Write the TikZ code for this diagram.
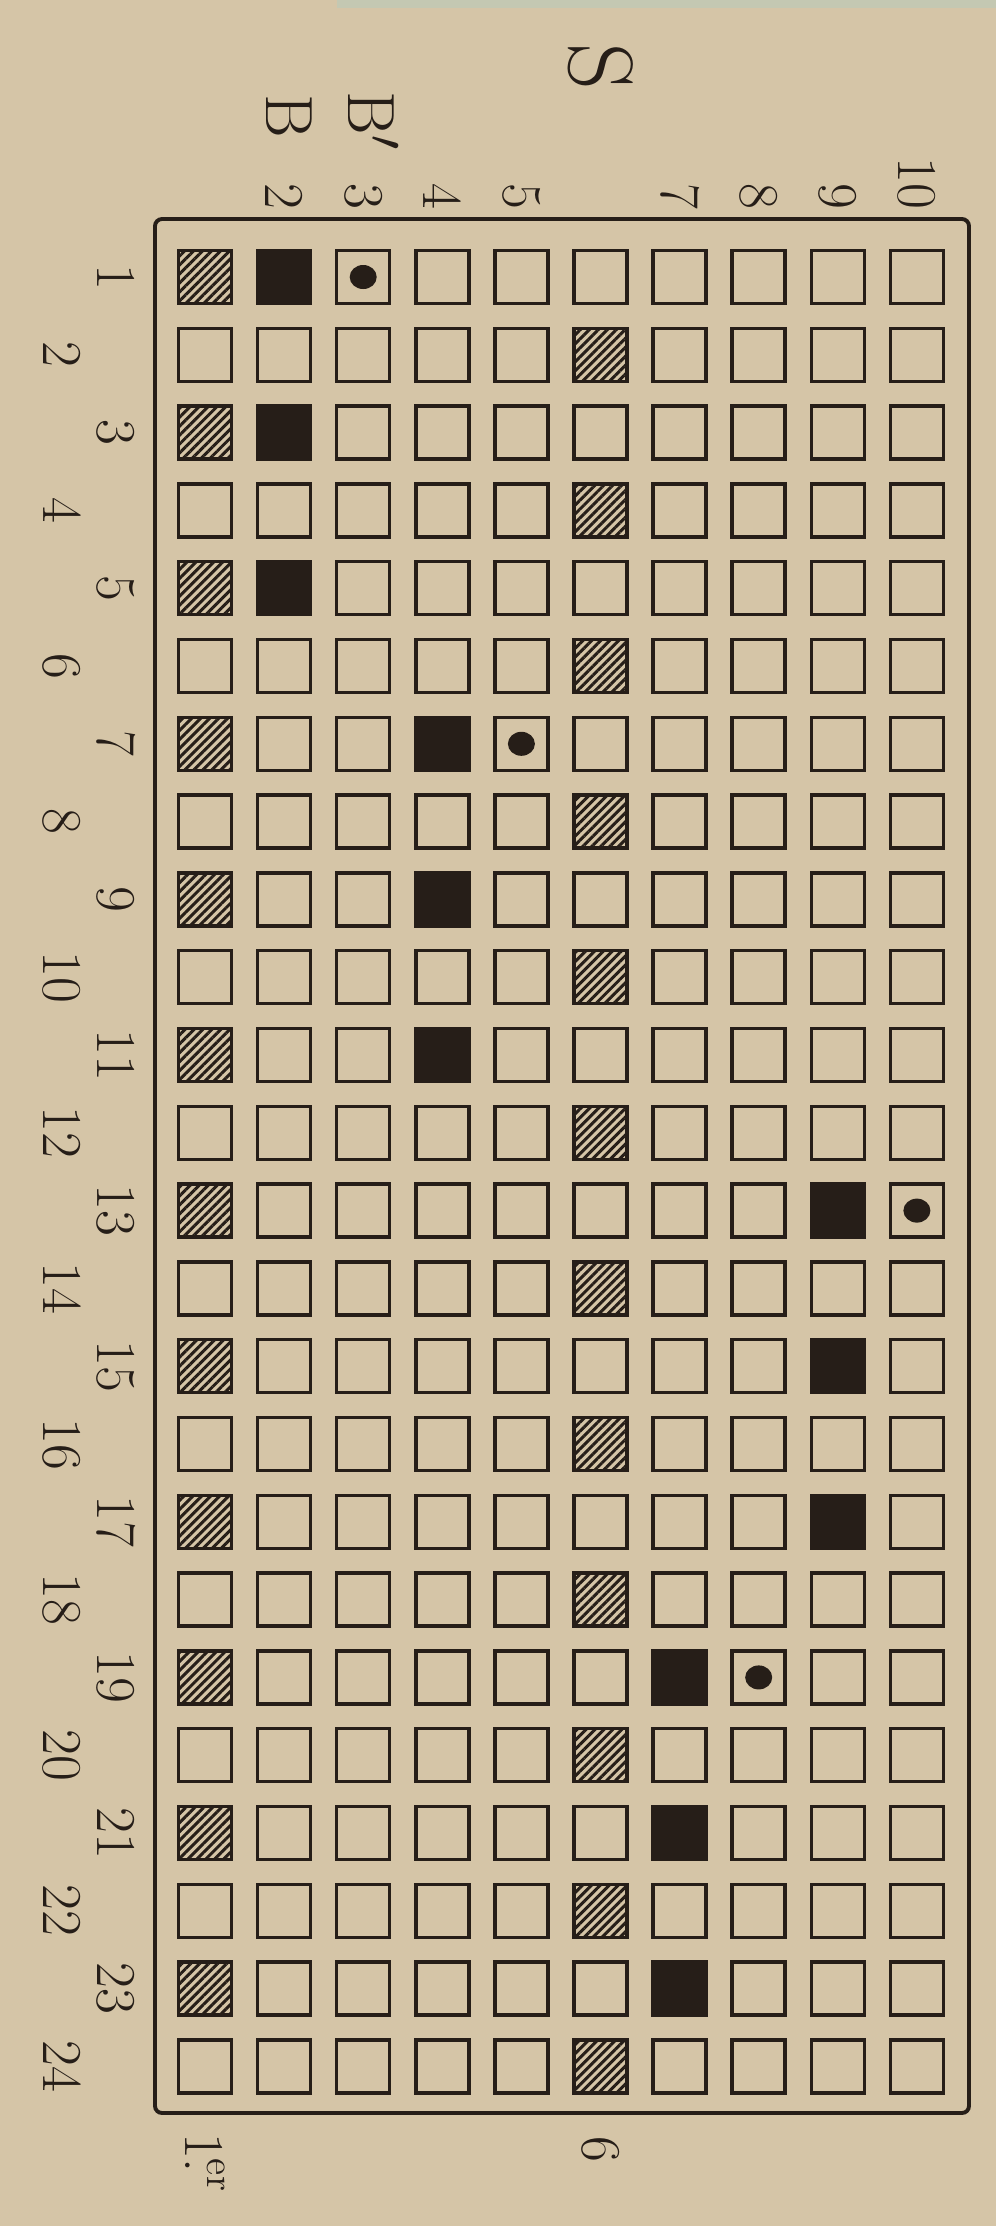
\documentclass[tikz,border=0pt]{standalone}
\usetikzlibrary{patterns.meta,shapes.geometric}

\definecolor{paper}{RGB}{213,197,167}
\definecolor{band}{RGB}{196,200,178}
\definecolor{ink}{RGB}{38,30,24}

\tikzset{
  cell/.style={draw=ink,line width=1pt,minimum size=0.53cm,inner sep=0pt},
  blackcell/.style={cell,fill=ink},
  hatchcell/.style={cell,pattern={Lines[angle=45,distance=1.8pt,line width=0.85pt]},pattern color=ink},
  dotmark/.style={ellipse,fill=ink,inner sep=0pt,minimum width=0.27cm,minimum height=0.24cm},
  lab/.style={text=ink,rotate=-90,inner sep=0pt,font=\fontsize{16}{16}\selectfont},
}

\begin{document}
\begin{tikzpicture}[x=0.01cm,y=-0.01cm]
  \fill[paper] (0,0) rectangle (996,2226);
  \fill[band] (337,0) rectangle (996,8);

  % frame
  \draw[ink,line width=1.1pt,rounded corners=2pt] (155,219) rectangle (969,2113);

  % the 10 x 24 cells
  \foreach \c in {1,...,10}{
    \foreach \r in {1,...,24}{
      \node[cell] (c\c-\r) at ({205+79.1*(\c-1)},{277+77.8*(\r-1)}) {};
    }
  }

  \foreach \r in {1,3,...,23}{
    \node[hatchcell] (h1-\r) at (c1-\r) {};
  }
  \foreach \r in {2,4,...,24}{
    \node[hatchcell] (h6-\r) at (c6-\r) {};
  }

  \foreach \c/\r in {2/1,2/3,2/5,4/7,4/9,4/11,9/13,9/15,9/17,7/19,7/21,7/23}{
    \node[blackcell] (k\c-\r) at (c\c-\r) {};
  }
  \foreach \c/\r in {3/1,5/7,10/13,8/19}{
    \node[dotmark] (d\c-\r) at (c\c-\r) {};
  }

  % labels
  \node[lab,font=\fontsize{26}{26}\selectfont] (s) at (c6-1 |- 0,67) {S};
  \node[lab,font=\fontsize{19}{19}\selectfont] (b) at (289,116) {B};
  \node[lab,font=\fontsize{19}{19}\selectfont] (bp) at (374,121) {B$'$};
  \foreach \c in {2,3,4,5,7,8,9,10}{
    \node[lab,anchor=east] (n\c) at (c\c-1 |- 0,210) {\c};
  }
  \foreach \r in {1,...,24}{
    \pgfmathsetmacro{\lx}{isodd(\r) ? 116 : 62}
    \node[lab] (r\r) at (c1-\r -| \lx,0) {\r};
  }
  \node[lab] (first) at (c1-24 |- 0,2163) {1\rlap{.}\textsuperscript{er}};
  \node[lab] (six) at (c6-24 |- 0,2149) {6};
\end{tikzpicture}
\end{document}
